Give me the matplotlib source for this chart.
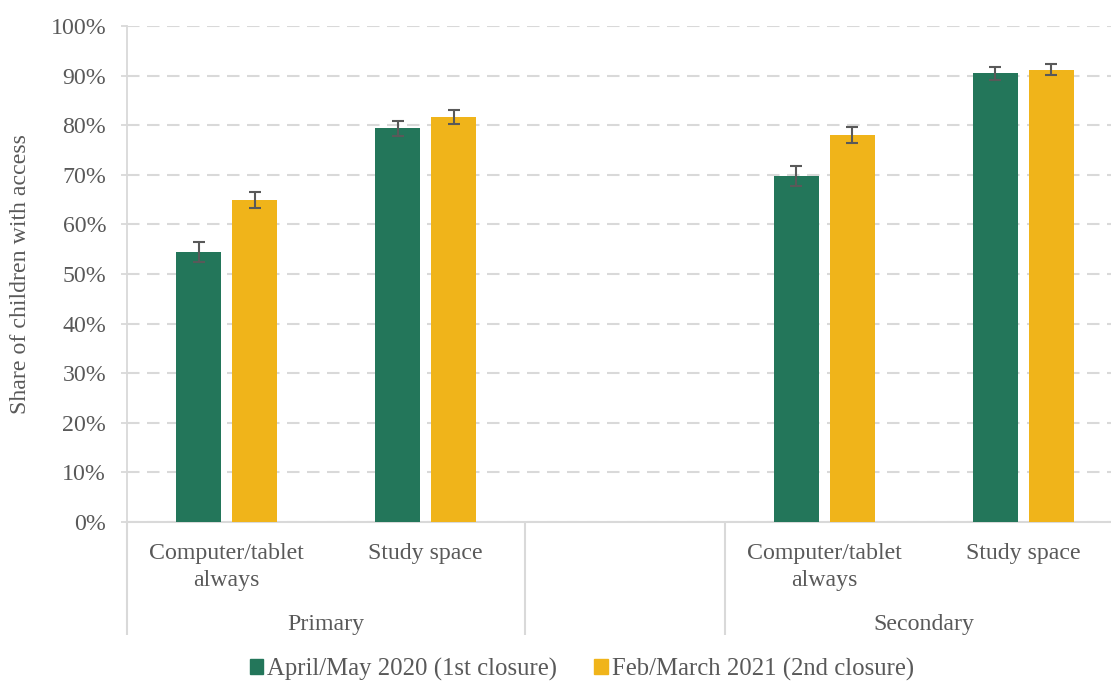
import matplotlib
matplotlib.use("Agg")
import matplotlib.pyplot as plt
import matplotlib.patches as mpatches
import numpy as np

plt.rcParams['font.family'] = ['Liberation Serif', 'DejaVu Serif']

# data
groups = ["Primary", "", "Secondary"]
categories = ["Computer/tablet\nalways", "Study space", "", "Computer/tablet\nalways", "Study space"]
series_names = ["April/May 2020 (1st closure)", "Feb/March 2021 (2nd closure)"]
first_closure = [54.5, 79.4, np.nan, 69.8, 90.5]
second_closure = [65.0, 81.6, np.nan, 78.1, 91.2]
first_err = [2.0, 1.5, np.nan, 2.0, 1.3]
second_err = [1.6, 1.4, np.nan, 1.6, 1.1]

green = "#23765a"
yellow = "#f0b41a"
grey_txt = "#595959"
grid_col = "#d9d9d9"
fs = 17.2

fig = plt.figure(figsize=(11.11, 6.81), dpi=100)
ax = fig.add_axes([127 / 1111, 1 - 522 / 681, 996 / 1111, 496 / 681])

x = np.arange(len(categories))
w = 0.226
off = 0.141
ekw = dict(ecolor=grey_txt, elinewidth=1.5, capsize=4.5, capthick=1.5)
ax.bar(x - off, first_closure, w, color=green, yerr=first_err, error_kw=ekw, zorder=3)
ax.bar(x + off, second_closure, w, color=yellow, yerr=second_err, error_kw=ekw, zorder=3)

ax.set_xlim(-0.5, len(categories) - 0.5)
ax.set_ylim(0, 100)
ax.set_yticks(np.arange(0, 101, 10))
ax.set_yticklabels([f"{v}%" for v in range(0, 101, 10)], fontsize=fs, color=grey_txt)
ax.tick_params(axis="y", length=4, color=grid_col, width=1.3, pad=11)
ax.set_xticks([])

for s in ["top", "right"]:
    ax.spines[s].set_visible(False)
ax.spines["left"].set_color(grid_col)
ax.spines["left"].set_linewidth(1.3)
ax.spines["bottom"].set_color(grid_col)
ax.spines["bottom"].set_linewidth(1.5)

ax.yaxis.grid(True, color=grid_col, linewidth=1.5, dashes=(6, 3.6), zorder=0)
ax.set_axisbelow(True)

ax.set_ylabel("Share of children with access", fontsize=fs, color=grey_txt, labelpad=14)

# category labels and group labels under the axis
tr = ax.get_xaxis_transform()
for i, c in enumerate(categories):
    if c:
        ax.text(i, -0.042, c, transform=tr, ha="center", va="top", fontsize=fs,
                color=grey_txt, linespacing=1.4)
group_centres = [0.5, 2, 3.5]
for g, gc in zip(groups, group_centres):
    if g:
        ax.text(gc, -0.206, g, transform=tr, ha="center", va="center", fontsize=fs, color=grey_txt)

for xb in [-0.5, 1.5, 2.5, 4.5]:
    ax.plot([xb, xb], [0, -0.228], transform=tr, color=grid_col, linewidth=1.5,
            clip_on=False, solid_capstyle="butt")

handles = [mpatches.Patch(color=green, label=series_names[0]),
           mpatches.Patch(color=yellow, label=series_names[1])]
leg = fig.legend(handles=handles, loc="center", bbox_to_anchor=(582 / 1111, 1 - 669 / 681),
                 ncol=2, frameon=False, fontsize=17.8, handlelength=0.53, handleheight=0.53,
                 handletextpad=0.16, columnspacing=1.5, borderpad=0)
for t in leg.get_texts():
    t.set_color(grey_txt)

fig.savefig("out.png", dpi=100)
